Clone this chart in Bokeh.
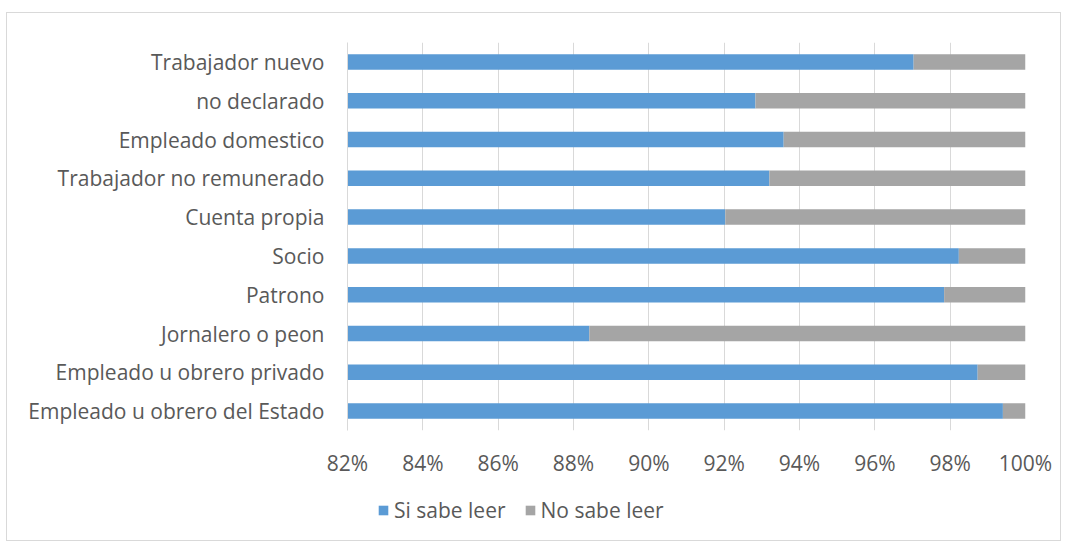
from bokeh.plotting import figure
from bokeh.layouts import column
from bokeh.models import Range1d, FixedTicker, NumeralTickFormatter, Legend, LegendItem, ColumnDataSource
from bokeh.embed import file_html
from bokeh.resources import INLINE

categories = ["Empleado u obrero del Estado", "Empleado u obrero privado", "Jornalero o peon",
              "Patrono", "Socio", "Cuenta propia", "Trabajador no remunerado",
              "Empleado domestico", "no declarado", "Trabajador nuevo"]
si_sabe = [0.9940, 0.9873, 0.8842, 0.9784, 0.9823, 0.9203, 0.9320, 0.9358, 0.9283, 0.9703]
no_sabe = [1 - v for v in si_sabe]
ticks = [0.82, 0.84, 0.86, 0.88, 0.90, 0.92, 0.94, 0.96, 0.98, 1.00]
series = ["Si sabe leer", "No sabe leer"]
colors = ["#5B9BD5", "#A5A5A5"]

FONT = "Open Sans"
FS = "21px"
TXT = "#595959"

src = ColumnDataSource(dict(cat=categories, si=si_sabe, no=no_sabe,
                            start=[0.0] * len(categories),
                            end=[s + n for s, n in zip(si_sabe, no_sabe)]))

p = figure(width=1053, height=466, y_range=categories, x_range=Range1d(0.82, 1.0),
           output_backend="svg", toolbar_location=None,
           min_border_left=340, min_border_right=35, min_border_top=29, min_border_bottom=40)
p.outline_line_color = None

p.hbar(y="cat", left="start", right="si", height=0.4, source=src,
       fill_color=colors[0], line_color=None)
p.hbar(y="cat", left="si", right="end", height=0.4, source=src,
       fill_color=colors[1], line_color=None)

p.xaxis.ticker = FixedTicker(ticks=ticks)
p.xaxis.formatter = NumeralTickFormatter(format="0%")
p.xaxis.axis_line_color = None
p.xaxis.major_tick_line_color = None
p.xaxis.minor_tick_line_color = None
p.xaxis.major_label_text_font = FONT
p.xaxis.major_label_text_font_size = FS
p.xaxis.major_label_text_color = TXT
p.xaxis.major_label_standoff = 12

p.yaxis.axis_line_color = "#d9d9d9"
p.yaxis.major_tick_line_color = None
p.yaxis.minor_tick_line_color = None
p.yaxis.major_label_text_font = FONT
p.yaxis.major_label_text_font_size = FS
p.yaxis.major_label_text_color = TXT
p.yaxis.major_label_standoff = 17

p.xgrid.grid_line_color = "#d9d9d9"
p.xgrid.ticker = FixedTicker(ticks=ticks)
p.ygrid.grid_line_color = None

# legend strip below the chart (legend-only renderers hold no drawable data)
lg = figure(width=1053, height=61, x_range=Range1d(0, 1), y_range=Range1d(0, 1),
            output_backend="svg", toolbar_location=None,
            x_axis_type=None, y_axis_type=None, min_border=0)
lg.outline_line_color = None
lg.grid.grid_line_color = None
nan = float("nan")
items = []
for name, c in zip(series, colors):
    r = lg.hbar(y=[nan], left=[nan], right=[nan], height=0.5,
                fill_color=c, line_color=None)
    items.append(LegendItem(label=name, renderers=[r]))
legend = Legend(items=items, orientation="horizontal", location=(30, 16),
                glyph_width=12, glyph_height=12, label_standoff=5, spacing=18,
                padding=0, margin=0, border_line_color=None, background_fill_alpha=0,
                label_text_font=FONT, label_text_font_size=FS, label_text_color=TXT)
lg.add_layout(legend, "center")

layout = column(p, lg, spacing=0, margin=(12, 0, 0, 6))
layout.styles = {"border": "1px solid #d9d9d9"}

open("out.html", "w").write(file_html(layout, INLINE))
